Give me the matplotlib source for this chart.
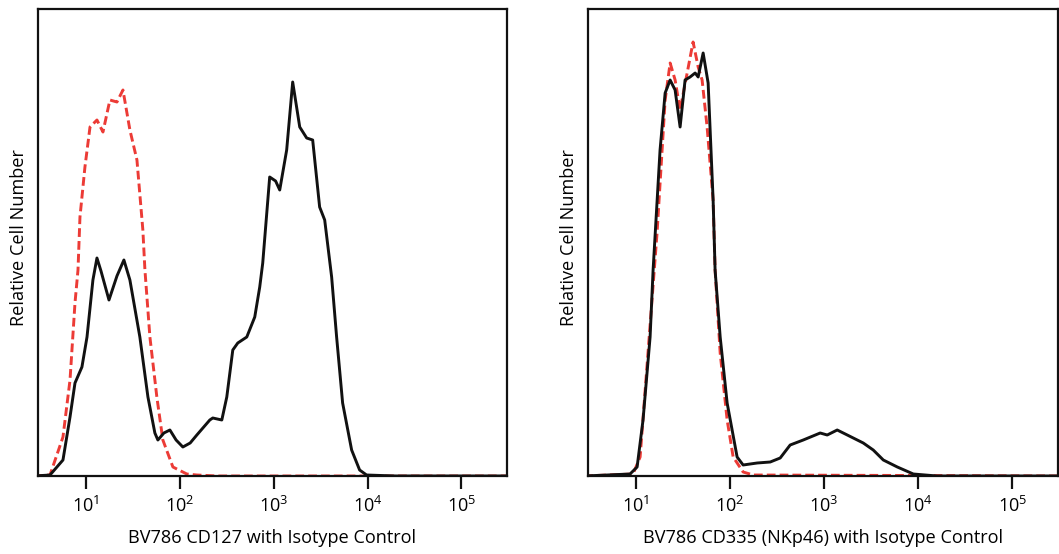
import numpy as np
import matplotlib
matplotlib.use("Agg")
import matplotlib.pyplot as plt

plt.rcParams['font.family'] = ['Open Sans', 'DejaVu Sans']
plt.rcParams['mathtext.fontset'] = 'custom'
plt.rcParams['mathtext.rm'] = 'Open Sans'
plt.rcParams['mathtext.it'] = 'Open Sans'
plt.rcParams['mathtext.bf'] = 'Open Sans'

# ---- data: (log10 fluorescence, relative count) ----
# Left panel: CD127 (black) and isotype (red dashed)
cd127_log = [0.45, 0.617, 0.755, 0.830, 0.883, 0.957, 1.011, 1.074, 1.117, 1.16, 1.245,
             1.33, 1.404, 1.468, 1.574, 1.660, 1.734, 1.766, 1.83, 1.894, 1.96, 2.032,
             2.11, 2.181, 2.319, 2.351, 2.447, 2.500, 2.564, 2.617, 2.713, 2.798,
             2.851, 2.883, 2.957, 3.02, 3.064, 3.138, 3.202, 3.277, 3.351, 3.415,
             3.489, 3.543, 3.617, 3.670, 3.734, 3.830, 3.915, 3.989, 4.3, 5.6]
cd127_val = [0, 1, 16, 59, 93, 109, 139, 196, 218, 205, 176,
             200, 216, 196, 139, 79, 43, 36, 43, 46, 36, 29,
             33, 41, 56, 58, 56, 79, 126, 133, 139, 159,
             189, 213, 299, 295, 286, 326, 394, 349, 338, 336,
             269, 256, 199, 139, 73, 26, 6, 1, 0, 0]

iso1_log = [0.45, 0.617, 0.755, 0.830, 0.883, 0.915, 0.936, 0.989, 1.043, 1.117, 1.181,
            1.255, 1.330, 1.394, 1.468, 1.543, 1.606, 1.628, 1.681, 1.755, 1.819,
            1.926, 2.074, 2.181, 2.4, 5.6]
iso1_val = [0, 1, 39, 96, 173, 206, 259, 309, 349, 356, 344,
            376, 374, 386, 346, 316, 246, 206, 139, 79, 36,
            9, 2, 1, 0, 0]

# Right panel: CD335 (black) and isotype (red dashed)
cd335_log = [0.45, 0.936, 1.011, 1.074, 1.149, 1.181, 1.255, 1.309, 1.362, 1.415, 1.468,
             1.521, 1.574, 1.628, 1.660, 1.713, 1.766, 1.819, 1.840, 1.894, 1.968,
             2.074, 2.138, 2.287, 2.426, 2.532, 2.638, 2.777, 2.957, 3.032, 3.138,
             3.245, 3.415, 3.521, 3.628, 3.777, 3.947, 4.2, 5.6]
cd335_val = [0, 2, 9, 56, 139, 206, 326, 383, 396, 386, 349,
             396, 399, 403, 399, 423, 393, 276, 206, 139, 73,
             19, 11, 13, 14, 18, 31, 36, 43, 41, 46,
             41, 33, 26, 16, 9, 2, 0, 0]

iso2_log = [0.45, 0.968, 1.043, 1.223, 1.309, 1.362, 1.415, 1.468, 1.543, 1.606, 1.660,
            1.702, 1.755, 1.819, 1.840, 1.894, 1.968, 2.032, 2.138, 2.245, 5.6]
iso2_val = [0, 2, 19, 243, 376, 413, 396, 366, 403, 434, 409,
            396, 349, 276, 206, 123, 56, 19, 4, 1, 0]

tick_pos = [1e1, 1e2, 1e3, 1e4, 1e5]
tick_lab = [r'$\mathregular{10^{1}}$', r'$\mathregular{10^{2}}$', r'$\mathregular{10^{3}}$',
            r'$\mathregular{10^{4}}$', r'$\mathregular{10^{5}}$']
xlabels = ['BV786 CD127 with Isotype Control', 'BV786 CD335 (NKp46) with Isotype Control']
ylabel = 'Relative Cell Number'

W, H = 1059, 554
fig = plt.figure(figsize=(W / 100, H / 100), dpi=100)

panels = [
    (38, 507, cd127_log, cd127_val, iso1_log, iso1_val, xlabels[0]),
    (588, 1058, cd335_log, cd335_val, iso2_log, iso2_val, xlabels[1]),
]
top, bottom = 9, 476
for x0, x1, blog, bval, rlog, rval, xl in panels:
    ax = fig.add_axes([x0 / W, (H - bottom) / H, (x1 - x0) / W, (bottom - top) / H])
    ax.plot(10 ** np.array(rlog), rval, color='#ec3b36', lw=2.1, ls=(0, (3.0, 1.4)), zorder=2)
    ax.plot(10 ** np.array(blog), bval, color='#111111', lw=2.1, zorder=3,
            solid_joinstyle='round', solid_capstyle='round')
    ax.set_xscale('log')
    ax.set_xlim(10 ** 0.489, 10 ** 5.485)
    ax.set_ylim(0, bottom - top)
    ax.set_xticks(tick_pos)
    ax.set_xticklabels(tick_lab, fontsize=13.1)
    ax.xaxis.set_minor_locator(matplotlib.ticker.NullLocator())
    ax.set_yticks([])
    ax.tick_params(axis='x', direction='out', length=9, width=1.6, pad=5, color='#111111')
    for s in ax.spines.values():
        s.set_linewidth(1.6)
        s.set_color('#111111')
    ax.set_xlabel(xl, fontsize=13.1, labelpad=10)
    ax.set_ylabel(ylabel, fontsize=13.1)
    ax.yaxis.set_label_coords(-0.022, 0.511)

fig.savefig('out.png', dpi=100)
